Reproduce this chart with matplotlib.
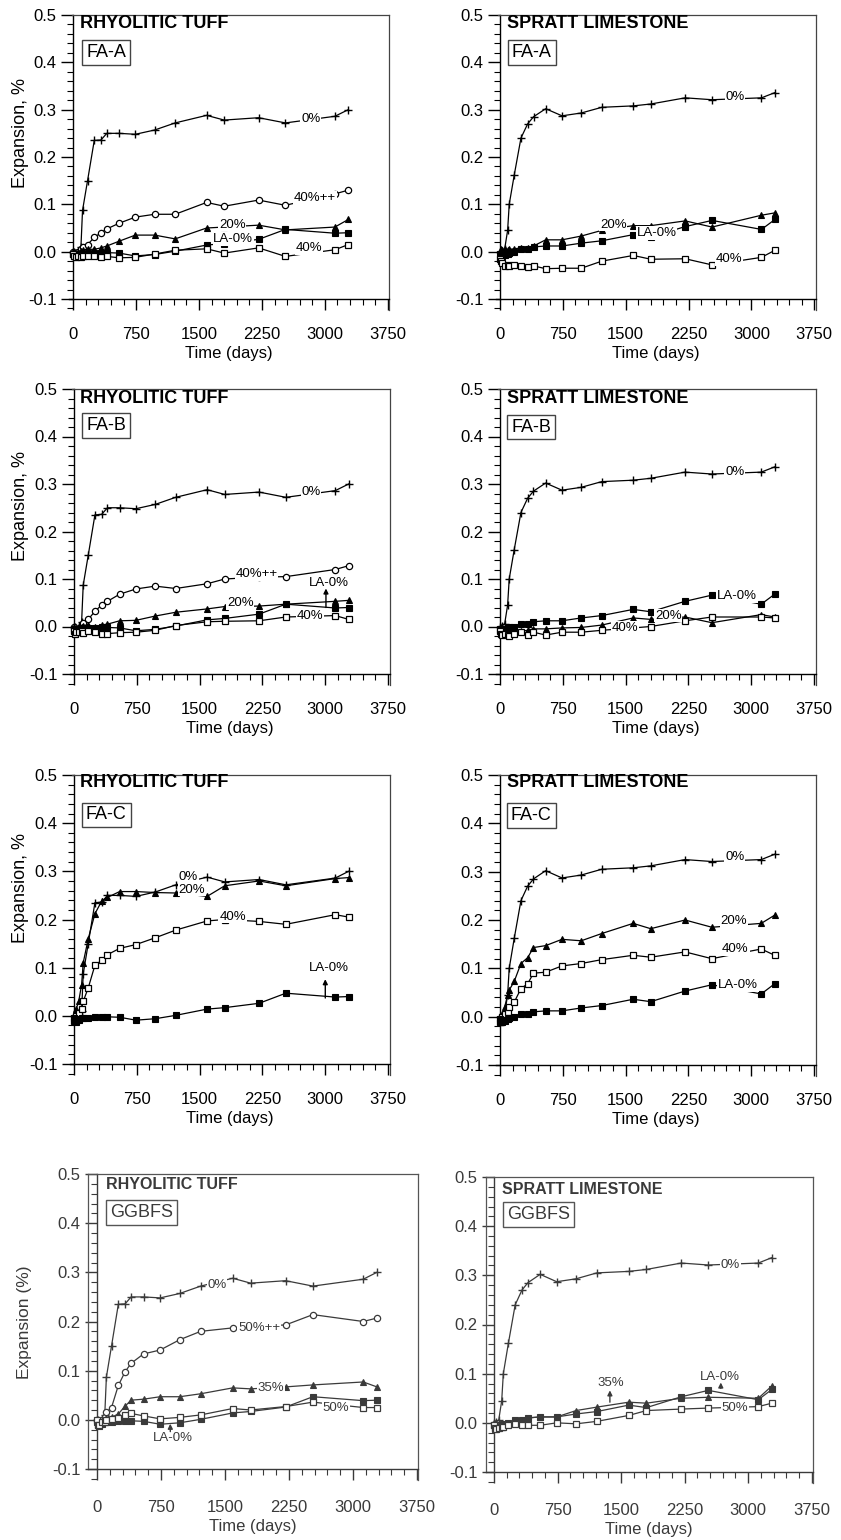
import matplotlib
matplotlib.use("Agg")
import matplotlib.pyplot as plt
from matplotlib.ticker import MultipleLocator, FormatStrFormatter

plt.rcParams['font.family'] = ['Liberation Sans', 'DejaVu Sans']

# ---------------- data (expansion %) ----------------
T = [0, 14, 28, 56, 91, 110, 170, 250, 330, 400, 545, 740, 970, 1215,
     1590, 1800, 2210, 2530, 3120, 3280]

# controls
rt_0pct = [0.000, 0.000, -0.003, 0.002, 0.010, 0.087, 0.150, 0.235, 0.236, 0.250,
           0.250, 0.248, 0.257, 0.272, 0.288, 0.278, 0.283, 0.272, 0.286, 0.300]
rt_la0 = [-0.005, -0.010, -0.012, -0.008, -0.005, -0.004, -0.004, -0.003, -0.002, -0.002,
          -0.003, -0.009, -0.006, 0.001, 0.014, 0.017, 0.026, 0.047, 0.039, 0.040]
sl_0pct = [0.000, -0.003, 0.002, 0.006, 0.045, 0.100, 0.162, 0.240, 0.270, 0.285,
           0.302, 0.287, 0.293, 0.305, 0.308, 0.312, 0.325, 0.321, 0.325, 0.336]
sl_la0 = [-0.005, -0.012, -0.010, -0.008, -0.005, -0.002, 0.000, 0.006, 0.005, 0.010,
          0.012, 0.012, 0.018, 0.023, 0.036, 0.031, 0.053, 0.066, 0.047, 0.068]

# Rhyolitic tuff, FA-A
rt_faa_40pp = [0.000, -0.003, -0.005, 0.000, 0.005, 0.010, 0.015, 0.030, 0.040, 0.048,
               0.060, 0.073, 0.079, 0.079, 0.104, 0.096, 0.109, 0.098, 0.122, 0.130]
rt_faa_20 = [0.000, -0.003, -0.005, 0.000, 0.002, 0.003, 0.005, 0.005, 0.008, 0.012,
             0.022, 0.035, 0.035, 0.027, 0.050, 0.052, 0.056, 0.046, 0.052, 0.068]
rt_faa_40 = [-0.005, -0.010, -0.012, -0.010, -0.012, -0.010, -0.010, -0.010, -0.012, -0.010,
             -0.013, -0.012, -0.005, 0.003, 0.006, -0.003, 0.008, -0.010, 0.004, 0.015]
# Spratt limestone, FA-A
sl_faa_20 = [0.000, 0.005, 0.003, 0.005, 0.003, 0.005, 0.006, 0.008, 0.008, 0.012,
             0.025, 0.025, 0.033, 0.045, 0.055, 0.055, 0.065, 0.052, 0.077, 0.082]
sl_faa_40 = [-0.015, -0.020, -0.025, -0.030, -0.028, -0.030, -0.028, -0.030, -0.033, -0.030,
             -0.036, -0.035, -0.035, -0.020, -0.008, -0.016, -0.015, -0.028, -0.012, 0.003]
# Rhyolitic tuff, FA-B
rt_fab_40pp = [0.000, -0.005, -0.010, -0.005, 0.000, 0.008, 0.015, 0.032, 0.045, 0.053,
               0.068, 0.079, 0.085, 0.080, 0.090, 0.100, 0.104, 0.105, 0.120, 0.128]
rt_fab_20 = [0.000, -0.005, -0.005, 0.000, 0.000, 0.002, 0.003, 0.000, 0.003, 0.005,
             0.012, 0.013, 0.022, 0.030, 0.037, 0.042, 0.043, 0.047, 0.053, 0.055]
rt_fab_40 = [-0.010, -0.015, -0.012, -0.012, -0.010, -0.013, -0.010, -0.012, -0.015, -0.015,
             -0.013, -0.012, -0.008, 0.002, 0.010, 0.011, 0.012, 0.020, 0.023, 0.015]
# Spratt limestone, FA-B
sl_fab_20 = [-0.005, -0.010, -0.012, -0.010, -0.012, -0.015, -0.012, -0.010, -0.008, -0.005,
             -0.005, -0.003, -0.002, 0.003, 0.018, 0.015, 0.020, 0.008, 0.025, 0.020]
sl_fab_40 = [-0.010, -0.015, -0.018, -0.015, -0.018, -0.020, -0.015, -0.012, -0.018, -0.012,
             -0.018, -0.012, -0.012, -0.008, -0.003, 0.000, 0.012, 0.020, 0.020, 0.018]
# Rhyolitic tuff, FA-C
rt_fac_20 = [0.000, 0.005, 0.015, 0.030, 0.065, 0.110, 0.160, 0.212, 0.238, 0.246,
             0.258, 0.258, 0.256, 0.255, 0.248, 0.270, 0.280, 0.270, 0.285, 0.287]
rt_fac_40 = [-0.010, -0.008, 0.000, 0.005, 0.015, 0.030, 0.058, 0.105, 0.115, 0.127,
             0.140, 0.148, 0.162, 0.178, 0.197, 0.200, 0.196, 0.190, 0.210, 0.205]
# Spratt limestone, FA-C
sl_fac_20 = [0.000, -0.005, 0.005, 0.020, 0.045, 0.055, 0.073, 0.110, 0.122, 0.143,
             0.147, 0.160, 0.157, 0.172, 0.193, 0.182, 0.200, 0.185, 0.193, 0.210]
sl_fac_40 = [-0.010, -0.010, 0.000, 0.005, 0.010, 0.020, 0.030, 0.058, 0.068, 0.090,
             0.092, 0.105, 0.110, 0.118, 0.127, 0.123, 0.134, 0.120, 0.140, 0.127]
# Rhyolitic tuff, GGBFS
rt_gg_50pp = [0.000, -0.005, -0.005, 0.000, 0.005, 0.015, 0.025, 0.070, 0.098, 0.115,
              0.134, 0.142, 0.163, 0.180, 0.187, 0.190, 0.193, 0.214, 0.200, 0.207]
rt_gg_35 = [0.000, -0.005, -0.008, -0.003, 0.000, 0.003, 0.005, 0.012, 0.028, 0.040,
            0.042, 0.047, 0.047, 0.053, 0.065, 0.063, 0.067, 0.071, 0.077, 0.067]
rt_gg_50 = [0.000, -0.010, -0.010, -0.005, -0.005, 0.000, 0.002, 0.003, 0.010, 0.013,
            0.008, 0.002, 0.005, 0.010, 0.023, 0.020, 0.027, 0.036, 0.025, 0.025]
# Spratt limestone, GGBFS
sl_gg_35 = [0.000, -0.010, -0.008, -0.005, -0.005, -0.003, 0.000, 0.005, 0.003, 0.010,
            0.012, 0.012, 0.025, 0.032, 0.042, 0.040, 0.050, 0.052, 0.050, 0.075]
sl_gg_50 = [-0.005, -0.010, -0.012, -0.010, -0.008, -0.008, -0.005, -0.003, -0.005, -0.005,
            -0.005, 0.000, -0.002, 0.003, 0.015, 0.025, 0.028, 0.030, 0.033, 0.040]

rock_names = ["RHYOLITIC TUFF", "SPRATT LIMESTONE"]
scm_names = ["FA-A", "FA-B", "FA-C", "GGBFS"]
x_ticks = [0, 750, 1500, 2250, 3000, 3750]
y_ticks = [-0.1, 0.0, 0.1, 0.2, 0.3, 0.4, 0.5]

# ---------------- layout ----------------
W, H = 841, 1540
fig = plt.figure(figsize=(W / 100, H / 100), dpi=100)

STY = {
    'plus': dict(marker='+', ms=5.5, mew=1.0, mfc='k'),
    'circ': dict(marker='o', ms=4.5, mfc='white', mew=0.9),
    'tri': dict(marker='^', ms=4.5, mew=0.8),
    'sq': dict(marker='s', ms=4, mfc='white', mew=0.9),
    'la': dict(marker='s', ms=3.8, mew=0.8),
}

panels = [
    dict(rock=0, scm=0, pix=(73.3, 387.7, 15, 299), xl=(-50, 3770), grey=False,
         series=[(rt_0pct, 'plus'), (rt_faa_40pp, 'circ'), (rt_faa_20, 'tri'),
                 (rt_la0, 'la'), (rt_faa_40, 'sq')],
         labels=[("0%", 2832, 0.281), ("40%++", 2880, 0.113), ("20%", 1897, 0.057),
                 ("LA-0%", 1909, 0.026), ("40%", 2812, 0.007)],
         arrows=[], title=(80, 0.483), box=(390, 0.421)),
    dict(rock=1, scm=0, pix=(500, 814.3, 15, 299), xl=(-50, 3770), grey=False,
         series=[(sl_0pct, 'plus'), (sl_faa_20, 'tri'), (sl_la0, 'la'), (sl_faa_40, 'sq')],
         labels=[("0%", 2803, 0.327), ("20%", 1352, 0.057), ("LA-0%", 1869, 0.040),
                 ("40%", 2732, -0.016)],
         arrows=[], title=(87, 0.482), box=(378, 0.421)),
    dict(rock=0, scm=1, pix=(74, 388, 389, 674), xl=(-50, 3770), grey=False,
         series=[(rt_0pct, 'plus'), (rt_fab_40pp, 'circ'), (rt_fab_20, 'tri'),
                 (rt_la0, 'la'), (rt_fab_40, 'sq')],
         labels=[("0%", 2830, 0.283), ("40%++", 2180, 0.111), ("LA-0%", 3047, 0.092),
                 ("20%", 1985, 0.050), ("40%", 2818, 0.023)],
         arrows=[(3009, 0.040, 0.080)], title=(71, 0.480), box=(386, 0.423)),
    dict(rock=1, scm=1, pix=(500, 814, 389, 674), xl=(-50, 3770), grey=False,
         series=[(sl_0pct, 'plus'), (sl_la0, 'la'), (sl_fab_20, 'tri'), (sl_fab_40, 'sq')],
         labels=[("0%", 2803, 0.326), ("LA-0%", 2832, 0.064), ("20%", 2009, 0.023),
                 ("40%", 1492, -0.003)],
         arrows=[], title=(87, 0.480), box=(370, 0.420)),
    dict(rock=0, scm=2, pix=(74, 388, 775, 1064), xl=(-50, 3770), grey=False,
         series=[(rt_0pct, 'plus'), (rt_fac_20, 'tri'), (rt_fac_40, 'sq'), (rt_la0, 'la')],
         labels=[("0%", 1367, 0.288), ("20%", 1407, 0.262), ("40%", 1893, 0.206),
                 ("LA-0%", 3041, 0.099)],
         arrows=[(3001, 0.037, 0.076)], title=(71, 0.485), box=(386, 0.417)),
    dict(rock=1, scm=2, pix=(500, 814, 775, 1065), xl=(-50, 3770), grey=False,
         series=[(sl_0pct, 'plus'), (sl_fac_20, 'tri'), (sl_fac_40, 'sq'), (sl_la0, 'la')],
         labels=[("0%", 2803, 0.331), ("20%", 2792, 0.198), ("40%", 2812, 0.140),
                 ("LA-0%", 2841, 0.065)],
         arrows=[], title=(87, 0.485), box=(374, 0.417)),
    dict(rock=0, scm=3, pix=(97, 417, 1174, 1469), xl=(-105, 3760), grey=True,
         series=[(rt_0pct, 'plus'), (rt_gg_50pp, 'circ'), (rt_gg_35, 'tri'),
                 (rt_la0, 'la'), (rt_gg_50, 'sq')],
         labels=[("0%", 1406, 0.275), ("50%++", 1902, 0.187), ("35%", 2040, 0.065),
                 ("50%", 2801, 0.024), ("LA-0%", 887, -0.037)],
         arrows=[(859, -0.024, -0.008)], title=(109, 0.478), box=(527, 0.422)),
    dict(rock=1, scm=3, pix=(494, 811.7, 1177, 1472), xl=(-95, 3760), grey=True,
         series=[(sl_0pct, 'plus'), (sl_gg_35, 'tri'), (sl_la0, 'la'), (sl_gg_50, 'sq')],
         labels=[("0%", 2793, 0.322), ("35%", 1384, 0.080), ("LA-0%", 2665, 0.093),
                 ("50%", 2844, 0.031)],
         arrows=[(1368, 0.042, 0.066), (2677, 0.070, 0.082)], title=(92, 0.474), box=(530, 0.424)),
]

YLIM = (-0.123, 0.5)


def place(ax, px0, px3750, py05, pym01, xlim, ylim):
    sx = (px3750 - px0) / 3750.0
    left = px0 + xlim[0] * sx
    right = px0 + xlim[1] * sx
    sy = (pym01 - py05) / 0.6
    top = py05 - (ylim[1] - 0.5) * sy
    bottom = py05 + (0.5 - ylim[0]) * sy
    ax.set_position([left / W, 1 - bottom / H, (right - left) / W, (bottom - top) / H])


for p in panels:
    ax = fig.add_axes([0, 0, 1, 1])
    place(ax, *p['pix'], p['xl'], YLIM)
    ax.set_xlim(*p['xl'])
    ax.set_ylim(*YLIM)
    col = '#3a3a3a' if p['grey'] else 'black'
    fcol = '#555555' if p['grey'] else '#444444'

    ax.spines['left'].set_position(('data', 0))
    ax.spines['left'].set_bounds(-0.1, 0.5)
    ax.spines['bottom'].set_position(('data', -0.1))
    for s in ('left', 'bottom'):
        ax.spines[s].set_color(col)
        ax.spines[s].set_linewidth(1.0)
    for s in ('top', 'right'):
        ax.spines[s].set_color(fcol)
        ax.spines[s].set_linewidth(0.9)
    if p['grey']:
        ax.plot([0, 0], [-0.1, 0.5], transform=ax.get_yaxis_transform(),
                color=fcol, lw=0.9, clip_on=False)
    else:
        ax.spines['top'].set_bounds(-20, p['xl'][1])

    ax.set_xticks(x_ticks)
    ax.xaxis.set_minor_locator(MultipleLocator(150))
    ax.set_yticks(y_ticks)
    ax.yaxis.set_minor_locator(MultipleLocator(0.02))
    ax.yaxis.set_major_formatter(FormatStrFormatter('%.1f'))
    ax.tick_params(axis='x', which='major', direction='out', length=8, width=1,
                   pad=14 if p['grey'] else 12, labelsize=12, colors=col)
    ax.tick_params(axis='x', which='minor', direction='out', length=4.5, width=0.8, colors=col)
    ax.tick_params(axis='y', which='major', direction='out', length=9, width=1,
                   pad=3, labelsize=12, colors=col)
    ax.tick_params(axis='y', which='minor', direction='out', length=4.5, width=0.8, colors=col)
    ax.set_xlabel('Time (days)', fontsize=12, labelpad=3, color=col)

    for vals, kind in p['series']:
        ax.plot(T, vals, color=col, lw=0.9, mec=col, clip_on=False, zorder=3, **STY[kind])

    for txt, x, y in p['labels']:
        ax.text(x, y, txt, fontsize=9.5, ha='center', va='center', color=col, zorder=6,
                bbox=dict(facecolor='white', edgecolor='none', pad=0.6))
    for x, y0, y1 in p['arrows']:
        ax.annotate('', xy=(x, y1), xytext=(x, y0), zorder=6,
                    arrowprops=dict(arrowstyle='-|>', color=col, lw=1.0, mutation_scale=7,
                                    shrinkA=0, shrinkB=0))

    tx, ty = p['title']
    ax.text(tx, ty, rock_names[p['rock']], fontsize=11.5 if p['grey'] else 13,
            fontweight='bold', ha='left', va='center', color=col, zorder=7)
    bx, by = p['box']
    ax.text(bx, by, scm_names[p['scm']], fontsize=13, ha='center', va='center', color=col,
            zorder=7, bbox=dict(boxstyle='square,pad=0.22', facecolor='white',
                                edgecolor=fcol, linewidth=1.0))

# y-axis titles (left column)
for yc in (133, 506, 888):
    fig.text(21 / W, 1 - yc / H, 'Expansion, %', rotation=90, ha='center', va='center',
             fontsize=13)
fig.text(25 / W, 1 - 1322 / H, 'Expansion (%)', rotation=90, ha='center', va='center',
         fontsize=12.5, color='#3a3a3a')

fig.savefig('out.png', dpi=100, facecolor='white')
